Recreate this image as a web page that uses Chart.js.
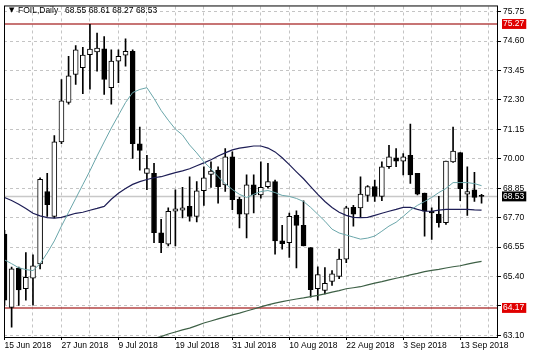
<!DOCTYPE html>
<html>
 <head>
  <meta charset="utf-8">
  <title>FOIL Daily</title>
  <style>
  body {
   margin: 0;
   background: #fff;
  }
  canvas {
   display: block;
  }
  </style>
 </head>
 <body>
 <canvas id="chart" width="536" height="358"></canvas>
 <script src="https://cdn.jsdelivr.net/npm/chart.js@4.4.0/dist/chart.umd.min.js"></script>
 <script>
 // Daily bars, 15 Jun - 18 Sep 2018
 const dates = ['15 Jun 2018','18 Jun 2018','19 Jun 2018','20 Jun 2018','21 Jun 2018','22 Jun 2018','25 Jun 2018','26 Jun 2018','27 Jun 2018','28 Jun 2018',
  '29 Jun 2018','2 Jul 2018','3 Jul 2018','4 Jul 2018','5 Jul 2018','6 Jul 2018','9 Jul 2018','10 Jul 2018','11 Jul 2018','12 Jul 2018',
  '13 Jul 2018','16 Jul 2018','17 Jul 2018','18 Jul 2018','19 Jul 2018','20 Jul 2018','23 Jul 2018','24 Jul 2018','25 Jul 2018','26 Jul 2018',
  '27 Jul 2018','30 Jul 2018','31 Jul 2018','1 Aug 2018','2 Aug 2018','3 Aug 2018','6 Aug 2018','7 Aug 2018','8 Aug 2018','9 Aug 2018',
  '10 Aug 2018','13 Aug 2018','14 Aug 2018','15 Aug 2018','16 Aug 2018','17 Aug 2018','20 Aug 2018','21 Aug 2018','22 Aug 2018','23 Aug 2018',
  '24 Aug 2018','27 Aug 2018','28 Aug 2018','29 Aug 2018','30 Aug 2018','31 Aug 2018','3 Sep 2018','4 Sep 2018','5 Sep 2018','6 Sep 2018',
  '7 Sep 2018','10 Sep 2018','11 Sep 2018','12 Sep 2018','13 Sep 2018','14 Sep 2018','17 Sep 2018','18 Sep 2018'];

 const open = [67.06,64.19,65.73,64.92,65.33,65.89,68.72,67.75,70.66,72.20,
  73.30,73.56,74.07,74.18,74.30,72.78,73.82,74.05,74.20,70.59,
  69.43,69.43,67.11,66.66,67.95,67.99,68.14,67.75,68.75,69.39,
  69.56,68.98,70.08,68.42,67.84,68.98,68.59,68.91,69.11,66.79,
  66.72,67.79,67.40,66.53,64.92,64.85,65.21,65.40,66.08,68.10,
  68.08,68.57,68.91,68.53,69.69,70.04,69.91,70.14,69.43,68.66,
  67.95,67.84,67.50,69.88,70.24,68.62,68.79,68.55];
 const high = [67.20,65.77,65.77,66.33,66.25,69.26,69.43,70.91,73.10,74.01,
  74.43,74.36,75.26,74.91,74.78,74.26,74.26,74.69,74.26,71.24,
  70.14,69.82,67.63,68.08,68.79,68.88,69.30,69.11,69.69,69.88,
  69.69,70.40,70.27,68.49,69.37,69.37,69.88,69.82,69.17,67.40,
  67.88,67.97,68.36,66.53,65.78,65.75,65.63,66.47,68.14,68.18,
  69.30,68.95,69.17,69.88,70.53,70.40,70.20,71.36,69.43,68.66,
  68.08,68.53,69.91,71.24,70.24,69.69,69.47,68.61];
 const low = [64.30,63.42,64.27,64.47,64.28,65.70,67.75,67.69,70.59,72.14,
  72.91,72.55,72.72,73.43,72.52,72.14,72.98,73.62,70.01,69.56,
  68.79,66.72,66.33,66.59,66.59,67.69,67.56,67.53,68.18,68.88,
  68.27,68.72,68.01,67.30,66.91,67.88,68.46,68.85,66.27,66.47,
  66.14,65.73,66.59,64.59,64.47,64.72,65.05,65.31,65.94,67.37,
  67.72,68.33,68.33,68.36,69.62,69.69,69.37,69.04,68.59,66.98,
  66.85,67.33,67.43,69.86,68.36,67.79,68.33,68.27];
 const close = [64.47,65.70,64.87,65.37,65.82,69.20,68.21,70.66,72.27,73.24,
  74.26,74.05,74.29,74.33,73.10,73.82,74.01,74.20,70.59,70.33,
  69.62,67.11,66.72,67.95,68.04,68.08,67.75,68.75,69.26,69.52,
  68.91,70.08,68.40,67.84,68.98,68.59,68.88,69.11,66.79,66.68,
  67.75,67.40,66.59,64.88,65.47,65.13,65.50,66.08,68.08,67.84,
  68.62,68.91,68.53,69.69,70.08,69.91,70.08,69.37,68.62,67.95,
  67.88,67.50,69.91,70.30,68.83,68.72,68.49,68.53];

 // moving averages
 const fastMA = [66.05,65.90,65.74,65.67,65.63,65.90,66.32,66.79,67.37,67.91,
  68.45,68.99,69.53,70.11,70.66,71.20,71.70,72.20,72.59,72.71,
  72.78,72.36,71.89,71.51,71.16,70.93,70.54,70.23,69.88,69.61,
  69.30,69.03,68.80,68.61,68.49,68.61,68.72,68.76,68.68,68.57,
  68.53,68.45,68.33,68.10,67.83,67.56,67.25,67.10,67.02,66.94,
  66.86,66.90,66.98,67.17,67.37,67.52,67.75,67.99,68.18,68.33,
  68.49,68.68,68.84,69.07,69.07,69.07,69.03,68.95];
 const midMA = [68.49,68.37,68.22,68.06,67.87,67.77,67.70,67.68,67.71,67.79,
  67.87,67.91,67.99,68.06,68.14,68.42,68.65,68.84,69.00,69.11,
  69.19,69.26,69.30,69.38,69.46,69.53,69.61,69.73,69.84,69.96,
  70.11,70.23,70.35,70.42,70.46,70.50,70.50,70.42,70.27,70.04,
  69.77,69.49,69.22,68.91,68.61,68.33,68.10,67.91,67.79,67.71,
  67.70,67.71,67.79,67.87,67.95,68.02,68.10,68.10,68.02,67.95,
  67.95,67.99,68.02,68.02,68.02,68.02,68.00,67.99];
 const slowMA = [null,null,null,null,null,null,null,null,null,null,
  null,null,null,null,null,null,null,null,null,62.82,
  62.90,62.98,63.05,63.15,63.23,63.31,63.38,63.48,63.58,63.66,
  63.74,63.82,63.90,63.97,64.05,64.13,64.21,64.29,64.36,64.42,
  64.47,64.52,64.56,64.61,64.66,64.72,64.79,64.85,64.92,64.96,
  65.00,65.07,65.14,65.20,65.27,65.33,65.39,65.46,65.52,65.59,
  65.64,65.68,65.73,65.78,65.82,65.88,65.94,65.99];

 const levels = [75.27, 64.17];
 const lastPrice = 68.53;
 const priceTicks = [63.10, 64.25, 65.40, 66.55, 67.70, 68.85, 70.00, 71.15, 72.30, 73.45, 74.60, 75.75];
 const symbol = 'FOIL,Daily';

 const xMin = -0.07, xMax = 69.31;
 const markers = levels.concat([lastPrice]);
 const isMarker = v => markers.includes(v);
 // a price label hidden under a level box
 const isCovered = v => !isMarker(v) && levels.some(m => Math.abs(m - v) < 0.2);
 const font = '"Liberation Sans", Arial, sans-serif';

 const pts = arr => arr.map((v, i) => ({x: i, y: v}));
 const flat = v => [{x: xMin - 1, y: v}, {x: xMax + 1, y: v}];

 const datasets = [];
 // moving averages
 datasets.push({type: 'line', data: pts(fastMA), borderColor: '#6aa6aa', borderWidth: 1, order: 1});
 datasets.push({type: 'line', data: pts(midMA), borderColor: '#1e1e56', borderWidth: 1.2, order: 1});
 datasets.push({type: 'line', data: pts(slowMA), borderColor: '#3e6046', borderWidth: 1.2, order: 1});
 // candle bodies
 datasets.push({
   type: 'bar',
   data: open.map((o, i) => ({x: i, y: [o, close[i]]})),
   backgroundColor: open.map((o, i) => close[i] >= o ? '#ffffff' : '#000000'),
   borderColor: '#000000',
   borderWidth: 1,
   borderSkipped: false,
   minBarLength: 1,
   barThickness: 5,
   grouped: false,
   clip: 0,
   order: 2
 });
 // wicks
 datasets.push({
   type: 'bar',
   data: low.map((l, i) => ({x: i, y: [l, high[i]]})),
   backgroundColor: '#000000',
   borderWidth: 0,
   barThickness: 1,
   grouped: false,
   clip: 0,
   order: 3
 });
 // horizontal levels and last price line
 levels.forEach(v => {
   datasets.push({type: 'line', data: flat(v), borderColor: 'rgb(180,70,70)', borderWidth: 1.5, order: 4});
 });
 datasets.push({type: 'line', data: flat(lastPrice), borderColor: '#c8c8c8', borderWidth: 1.5, order: 5});

 const framePlugin = {
   id: 'frame',
   afterDraw(chart) {
     const {ctx, chartArea: a} = chart;
     ctx.save();
     ctx.strokeStyle = '#000';
     ctx.lineWidth = 1;
     ctx.strokeRect(a.left + 0.5, a.top - 0.5, a.right - a.left - 1, a.bottom - a.top + 1);
     // caption
     const n = open.length - 1;
     ctx.fillStyle = '#000';
     ctx.textBaseline = 'middle';
     ctx.font = '7px "DejaVu Sans"';
     ctx.fillText('\u25BC', 9, 10.5);
     ctx.font = '8.5px ' + font;
     ctx.fillText(symbol, 18, 10.5);
     ctx.fillText([open[n], high[n], low[n], close[n]].map(v => v.toFixed(2)).join(' '), 65, 10.5);
     ctx.restore();
   }
 };

 new Chart(document.getElementById('chart'), {
   type: 'bar',
   data: {datasets: datasets},
   options: {
     responsive: false,
     animation: false,
     layout: {padding: {left: 4, top: 3, right: 0, bottom: 0}},
     elements: {point: {radius: 0}, line: {tension: 0}},
     plugins: {legend: {display: false}, tooltip: {enabled: false}},
     scales: {
       x: {
         type: 'linear',
         min: xMin,
         max: xMax,
         offset: false,
         afterBuildTicks: s => {
           const t = [];
           for (let i = 0; i <= 68; i += 4) t.push({value: i});
           s.ticks = t;
         },
         afterFit: s => { s.height = 21; s.paddingLeft = 0; s.paddingRight = 0; },
         ticks: {
           autoSkip: false,
           maxRotation: 0,
           align: 'start',
           padding: 1,
           color: '#000',
           font: {family: font, size: 8.5},
           callback: v => v % 8 === 0 ? dates[v] : ''
         },
         grid: {
           offset: false,
           color: '#c4c4c4',
           tickLength: 3,
           tickColor: c => c.tick && c.tick.value % 8 === 0 ? '#000' : 'rgba(0,0,0,0)'
         },
         border: {display: false, dash: [3, 3]}
       },
       y: {
         type: 'linear',
         position: 'right',
         min: 63.034,
         max: 75.955,
         beginAtZero: false,
         afterBuildTicks: s => {
           s.ticks = priceTicks.concat(markers).sort((a, b) => a - b).map(v => ({value: v}));
         },
         afterFit: s => { s.width = 38; },
         ticks: {
           autoSkip: false,
           padding: 2,
           font: {family: font, size: 8.5, lineHeight: 1.05},
           color: c => isMarker(c.tick.value) ? '#fff' : '#000',
           showLabelBackdrop: c => isMarker(c.tick.value),
           backdropColor: c => c.tick.value === lastPrice ? '#000' : '#e00000',
           backdropPadding: {left: 1, right: 2, top: 0.5, bottom: 0.5},
           callback: v => isCovered(v) ? '' : v.toFixed(2)
         },
         grid: {
           color: c => c.tick && isMarker(c.tick.value) ? 'rgba(0,0,0,0)' : '#c4c4c4',
           tickLength: 3,
           tickColor: c => c.tick && isMarker(c.tick.value) ? 'rgba(0,0,0,0)' : '#000'
         },
         border: {display: false, dash: [3, 3]}
       }
     }
   },
   plugins: [framePlugin]
 });
 </script>
 </body>
</html>
